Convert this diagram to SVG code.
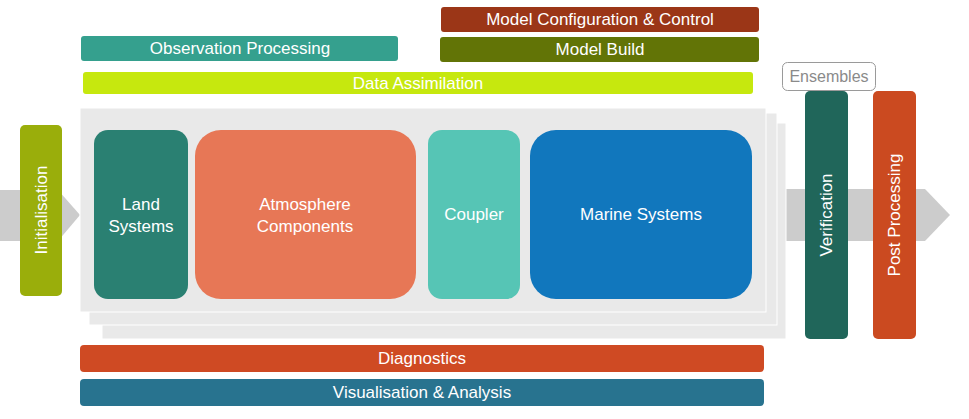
<svg xmlns="http://www.w3.org/2000/svg" width="969" height="419" viewBox="0 0 969 419">
<style>
text{font-family:"Liberation Sans",Arial,sans-serif;font-size:17px;fill:#fff;text-anchor:middle;dominant-baseline:central}
.layer{fill:#e9e9e9;stroke:#fff;stroke-width:1}
.arrow{fill:#cccccc}
</style>
<rect width="969" height="419" fill="#fff"/>
<g id="connectors">
<polygon class="arrow" points="0,190 58,190 58,190 80,215 58,241 0,241"/>
<polygon class="arrow" points="780,189 925,189 950,215 925,241 780,241"/>
</g>
<g id="panel">
<rect class="layer" x="102" y="123" width="684" height="216"/>
<rect class="layer" x="89" y="113" width="688" height="212"/>
<rect class="layer" x="80" y="108" width="686" height="204"/>
</g>
<g id="initialisation"><rect x="20" y="125" width="42" height="171" rx="5" fill="#9aae0b"/><text transform="translate(41,210) rotate(-90)">Initialisation</text></g>
<g id="model-config"><rect x="441" y="7" width="318" height="25" rx="3" fill="#9b3617"/><text x="600" y="19.5">Model Configuration &amp; Control</text></g>
<g id="model-build"><rect x="440" y="37" width="319" height="25" rx="3" fill="#627406"/><text x="600" y="49.5">Model Build</text></g>
<g id="observation-processing"><rect x="81" y="36" width="317" height="25" rx="3" fill="#35a08e"/><text x="240" y="48.5">Observation Processing</text></g>
<g id="data-assimilation"><rect x="83" y="72" width="670" height="22" rx="3" fill="#c6e80e"/><text x="418" y="83">Data Assimilation</text></g>
<g id="land-systems"><rect x="94" y="130" width="94" height="169" rx="14" fill="#2a8072"/><text x="141" y="204">Land</text><text x="141" y="226">Systems</text></g>
<g id="atmosphere"><rect x="195" y="130" width="221" height="169" rx="26" fill="#e77756"/><text x="305" y="204">Atmosphere</text><text x="305" y="226">Components</text></g>
<g id="coupler"><rect x="428" y="130" width="92" height="169" rx="14" fill="#56c5b5"/><text x="474" y="214">Coupler</text></g>
<g id="marine-systems"><rect x="530" y="130" width="222" height="169" rx="26" fill="#1177bd"/><text x="641" y="214">Marine Systems</text></g>
<g id="ensembles"><rect x="782.5" y="62.5" width="93" height="28" rx="5" fill="#fff" stroke="#9a9a9a" stroke-width="1"/><text x="829" y="76" style="fill:#8a8a8a;font-size:16px">Ensembles</text></g>
<g id="verification"><rect x="805" y="91" width="43" height="248" rx="5" fill="#20665a"/><text transform="translate(826.5,215) rotate(-90)">Verification</text></g>
<g id="post-processing"><rect x="873" y="91" width="43" height="248" rx="5" fill="#cb4a20"/><text transform="translate(894.5,215) rotate(-90)">Post Processing</text></g>
<g id="diagnostics"><rect x="80" y="345" width="684" height="27" rx="4" fill="#cf4a23"/><text x="422" y="358.5">Diagnostics</text></g>
<g id="visualisation"><rect x="80" y="379" width="684" height="27" rx="4" fill="#28738f"/><text x="422" y="392.5">Visualisation &amp; Analysis</text></g>
</svg>
